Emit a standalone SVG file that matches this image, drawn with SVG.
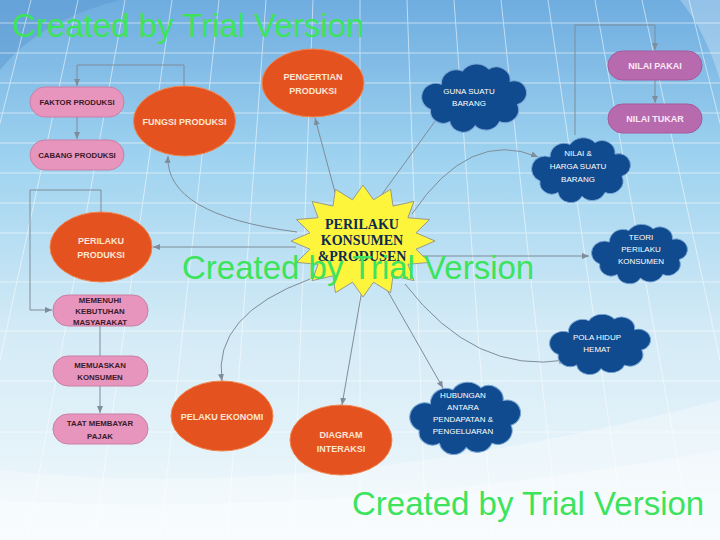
<svg xmlns="http://www.w3.org/2000/svg" width="720" height="540" viewBox="0 0 720 540">
<style>
.conn{fill:none;stroke:#7f8c99;stroke-width:1}
.ell{fill:#e4521f;stroke:#f0844f;stroke-width:1}
.pink{fill:#e895bd;stroke:#c97fa5;stroke-width:1}
.purp{fill:#b86aae;stroke:#a55a9b;stroke-width:1}
.cloud{fill:#0f4b8e;stroke:#7aa6d6;stroke-width:1}
.et{font-family:"Liberation Sans",Arial,sans-serif;font-weight:bold;font-size:9px;fill:#fde6d2;text-anchor:middle}
.pt{font-family:"Liberation Sans",Arial,sans-serif;font-weight:bold;font-size:7.8px;fill:#3a1a2a;text-anchor:middle}
.ut{font-family:"Liberation Sans",Arial,sans-serif;font-weight:bold;font-size:9px;fill:#fbeaf7;text-anchor:middle}
.ct{font-family:"Liberation Sans",Arial,sans-serif;font-size:8px;fill:#ffffff;text-anchor:middle}
.st{font-family:"Liberation Serif","Times New Roman",serif;font-weight:bold;font-size:14px;fill:#0d2b4e;text-anchor:middle}
.wm{font-family:"Liberation Sans",Arial,sans-serif;font-size:33px;fill:#3de35c}
.grid{stroke:#ffffff;stroke-width:1;opacity:0.55}
</style>
<defs>
<linearGradient id="bg" x1="0" y1="0" x2="0" y2="1">
<stop offset="0" stop-color="#6fade0"/>
<stop offset="0.3" stop-color="#9fd3f0"/>
<stop offset="0.6" stop-color="#d2eaf6"/>
<stop offset="1" stop-color="#f2f9fc"/>
</linearGradient>
<marker id="ah" markerWidth="8" markerHeight="8" refX="7" refY="4" orient="auto" markerUnits="userSpaceOnUse">
<path d="M0,1 L7,4 L0,7 Z" fill="#7f8c99"/>
</marker>
<path id="cl" d="M20 25 A14 14 0 0 1 40 12 A16 16 0 0 1 65 10 A13 13 0 0 1 85 22 A12 12 0 0 1 92 45 A13 13 0 0 1 75 62 A14 14 0 0 1 52 66 A13 13 0 0 1 28 62 A12 12 0 0 1 10 50 A12 12 0 0 1 20 25 Z"/>
</defs>

<g id="background">
<rect width="720" height="540" fill="url(#bg)"/>
<path d="M0 0 L120 0 Q40 20 0 70 Z" fill="#5b97d0" opacity="0.5"/>
<path d="M680 0 L720 0 L720 80 Q705 30 680 0 Z" fill="#ffffff" opacity="0.25"/>
<g class="grid">
<line x1="31" y1="0" x2="-105" y2="540"/>
<line x1="78" y1="0" x2="-39" y2="540"/>
<line x1="125" y1="0" x2="27" y2="540"/>
<line x1="172" y1="0" x2="94" y2="540"/>
<line x1="219" y1="0" x2="160" y2="540"/>
<line x1="266" y1="0" x2="227" y2="540"/>
<line x1="313" y1="0" x2="293" y2="540"/>
<line x1="360" y1="0" x2="360" y2="540"/>
<line x1="407" y1="0" x2="426" y2="540"/>
<line x1="454" y1="0" x2="493" y2="540"/>
<line x1="501" y1="0" x2="559" y2="540"/>
<line x1="548" y1="0" x2="626" y2="540"/>
<line x1="595" y1="0" x2="692" y2="540"/>
<line x1="642" y1="0" x2="759" y2="540"/>
<line x1="689" y1="0" x2="825" y2="540"/>
<line x1="0" y1="23" x2="720" y2="23"/>
<line x1="0" y1="53" x2="720" y2="53"/>
<line x1="0" y1="83" x2="720" y2="83"/>
<line x1="0" y1="113" x2="720" y2="113"/>
<line x1="0" y1="143" x2="720" y2="143"/>
<line x1="0" y1="173" x2="720" y2="173"/>
<line x1="0" y1="203" x2="720" y2="203"/>
<line x1="0" y1="233" x2="720" y2="233"/>
<line x1="0" y1="282" x2="720" y2="282"/>
<line x1="0" y1="331" x2="720" y2="331"/>
<line x1="0" y1="381" x2="720" y2="381"/>
<line x1="0" y1="432" x2="720" y2="432"/>
</g>
<path d="M0 470 Q320 505 720 400 L720 540 L0 540 Z" fill="#ffffff" opacity="0.3"/>
<path d="M0 500 Q330 520 720 450 L720 540 L0 540 Z" fill="#ffffff" opacity="0.3"/>
</g>

<g id="connectors">
<path class="conn" marker-end="url(#ah)" d="M336 196 L315 118"/>
<path class="conn" marker-end="url(#ah)" d="M297 232 Q165 215 168 156"/>
<path class="conn" marker-end="url(#ah)" d="M296 247 L153 247"/>
<path class="conn" marker-end="url(#ah)" d="M310 279 Q212 315 222 381"/>
<path class="conn" marker-end="url(#ah)" d="M362 290 L342 405"/>
<path class="conn" marker-end="url(#ah)" d="M386 288 L443 388"/>
<path class="conn" marker-end="url(#ah)" d="M405 284 Q475 375 566 360"/>
<path class="conn" marker-end="url(#ah)" d="M420 256 L589 256"/>
<path class="conn" marker-end="url(#ah)" d="M412 214 Q470 128 538 157"/>
<path class="conn" marker-end="url(#ah)" d="M380 197 L441 113"/>
<path class="conn" marker-end="url(#ah)" d="M184 86 L184 65 L77 65 L77 86"/>
<path class="conn" marker-end="url(#ah)" d="M77 117 L77 139"/>
<path class="conn" marker-end="url(#ah)" d="M101 212 L101 190 L30 190 L30 310 L52 310"/>
<path class="conn" marker-end="url(#ah)" d="M100 326 L100 413"/>
<path class="conn" marker-end="url(#ah)" d="M575 135 L575 25 L655 25 L655 50"/>
<path class="conn" marker-end="url(#ah)" d="M655 80 L655 103"/>
</g>

<g id="center">
<polygon points="363,185 373.5,199.8 390.6,189.3 393,206.1 413.9,201.4 407.9,217.7 429.5,219.6 416,232.8 435,241 416,249.2 429.5,262.4 407.9,264.3 413.9,280.6 393,275.9 390.6,292.7 373.5,282.2 363,297 352.5,282.2 335.4,292.7 333,275.9 312.1,280.6 318.1,264.3 296.5,262.4 310,249.2 291,241 310,232.8 296.5,219.6 318.1,217.7 312.1,201.4 333,206.1 335.4,189.3 352.5,199.8" fill="#fcf53c" stroke="#9a9a8a" stroke-width="1"/>
<text class="st" x="362" y="229">PERILAKU</text>
<text class="st" x="362" y="245">KONSUMEN</text>
<text class="st" x="362" y="261">&amp;PRODUSEN</text>
</g>

<g id="pengertian">
<ellipse class="ell" cx="313" cy="83" rx="51" ry="34"/>
<text class="et" x="313" y="80">PENGERTIAN</text>
<text class="et" x="313" y="94">PRODUKSI</text>
</g>
<g id="fungsi">
<ellipse class="ell" cx="184.5" cy="121" rx="51" ry="35"/>
<text class="et" x="184.5" y="125">FUNGSI PRODUKSI</text>
</g>
<g id="faktor">
<rect class="pink" x="30" y="87" width="94" height="30" rx="15"/>
<text class="pt" x="77" y="105">FAKTOR PRODUKSI</text>
</g>
<g id="cabang">
<rect class="pink" x="30" y="140" width="94" height="30" rx="15"/>
<text class="pt" x="77" y="158">CABANG PRODUKSI</text>
</g>
<g id="perilaku-produksi">
<ellipse class="ell" cx="101" cy="247" rx="51" ry="35"/>
<text class="et" x="101" y="244">PERILAKU</text>
<text class="et" x="101" y="258">PRODUKSI</text>
</g>
<g id="memenuhi">
<rect class="pink" x="53" y="295" width="95" height="31" rx="15"/>
<text class="pt" x="100" y="303">MEMENUHI</text>
<text class="pt" x="100" y="314">KEBUTUHAN</text>
<text class="pt" x="100" y="325">MASYARAKAT</text>
</g>
<g id="memuaskan">
<rect class="pink" x="53" y="356" width="95" height="30" rx="15"/>
<text class="pt" x="100" y="368">MEMUASKAN</text>
<text class="pt" x="100" y="380">KONSUMEN</text>
</g>
<g id="taat">
<rect class="pink" x="53" y="414" width="95" height="30" rx="15"/>
<text class="pt" x="100" y="426">TAAT MEMBAYAR</text>
<text class="pt" x="100" y="439">PAJAK</text>
</g>
<g id="pelaku">
<ellipse class="ell" cx="222" cy="416" rx="51" ry="35"/>
<text class="et" x="222" y="420">PELAKU EKONOMI</text>
</g>
<g id="diagram">
<ellipse class="ell" cx="341" cy="440" rx="51" ry="35"/>
<text class="et" x="341" y="438">DIAGRAM</text>
<text class="et" x="341" y="452">INTERAKSI</text>
</g>
<g id="hubungan">
<use href="#cl" class="cloud" transform="translate(408 377) scale(1.12 1.07)"/>
<text class="ct" x="463" y="398">HUBUNGAN</text>
<text class="ct" x="463" y="410">ANTARA</text>
<text class="ct" x="463" y="422">PENDAPATAN &amp;</text>
<text class="ct" x="463" y="434">PENGELUARAN</text>
</g>
<g id="pola">
<use href="#cl" class="cloud" transform="translate(548 310) scale(1.02 0.89)"/>
<text class="ct" x="597" y="340" font-size="9">POLA HIDUP</text>
<text class="ct" x="597" y="352" font-size="9">HEMAT</text>
</g>
<g id="teori">
<use href="#cl" class="cloud" transform="translate(590 220) scale(0.97 0.88)"/>
<text class="ct" x="641" y="240" font-size="8.5">TEORI</text>
<text class="ct" x="641" y="252" font-size="8.5">PERILAKU</text>
<text class="ct" x="641" y="264" font-size="8.5">KONSUMEN</text>
</g>
<g id="nilai-harga">
<use href="#cl" class="cloud" transform="translate(530 133) scale(1.0 0.96)"/>
<text class="ct" x="578" y="156" font-size="9">NILAI &amp;</text>
<text class="ct" x="578" y="169" font-size="9">HARGA SUATU</text>
<text class="ct" x="578" y="182" font-size="9">BARANG</text>
</g>
<g id="guna">
<use href="#cl" class="cloud" transform="translate(420 59) scale(1.06 1.01)"/>
<text class="ct" x="469" y="94">GUNA SUATU</text>
<text class="ct" x="469" y="106">BARANG</text>
</g>
<g id="nilai-pakai">
<rect class="purp" x="608" y="51" width="94" height="29" rx="14.5"/>
<text class="ut" x="655" y="69">NILAI PAKAI</text>
</g>
<g id="nilai-tukar">
<rect class="purp" x="608" y="104" width="94" height="29" rx="14.5"/>
<text class="ut" x="655" y="122">NILAI TUKAR</text>
</g>

<g id="watermarks">
<text class="wm" x="12" y="37">Created by Trial Version</text>
<text class="wm" x="182" y="279">Created by Trial Version</text>
<text class="wm" x="352" y="515">Created by Trial Version</text>
</g>
</svg>
